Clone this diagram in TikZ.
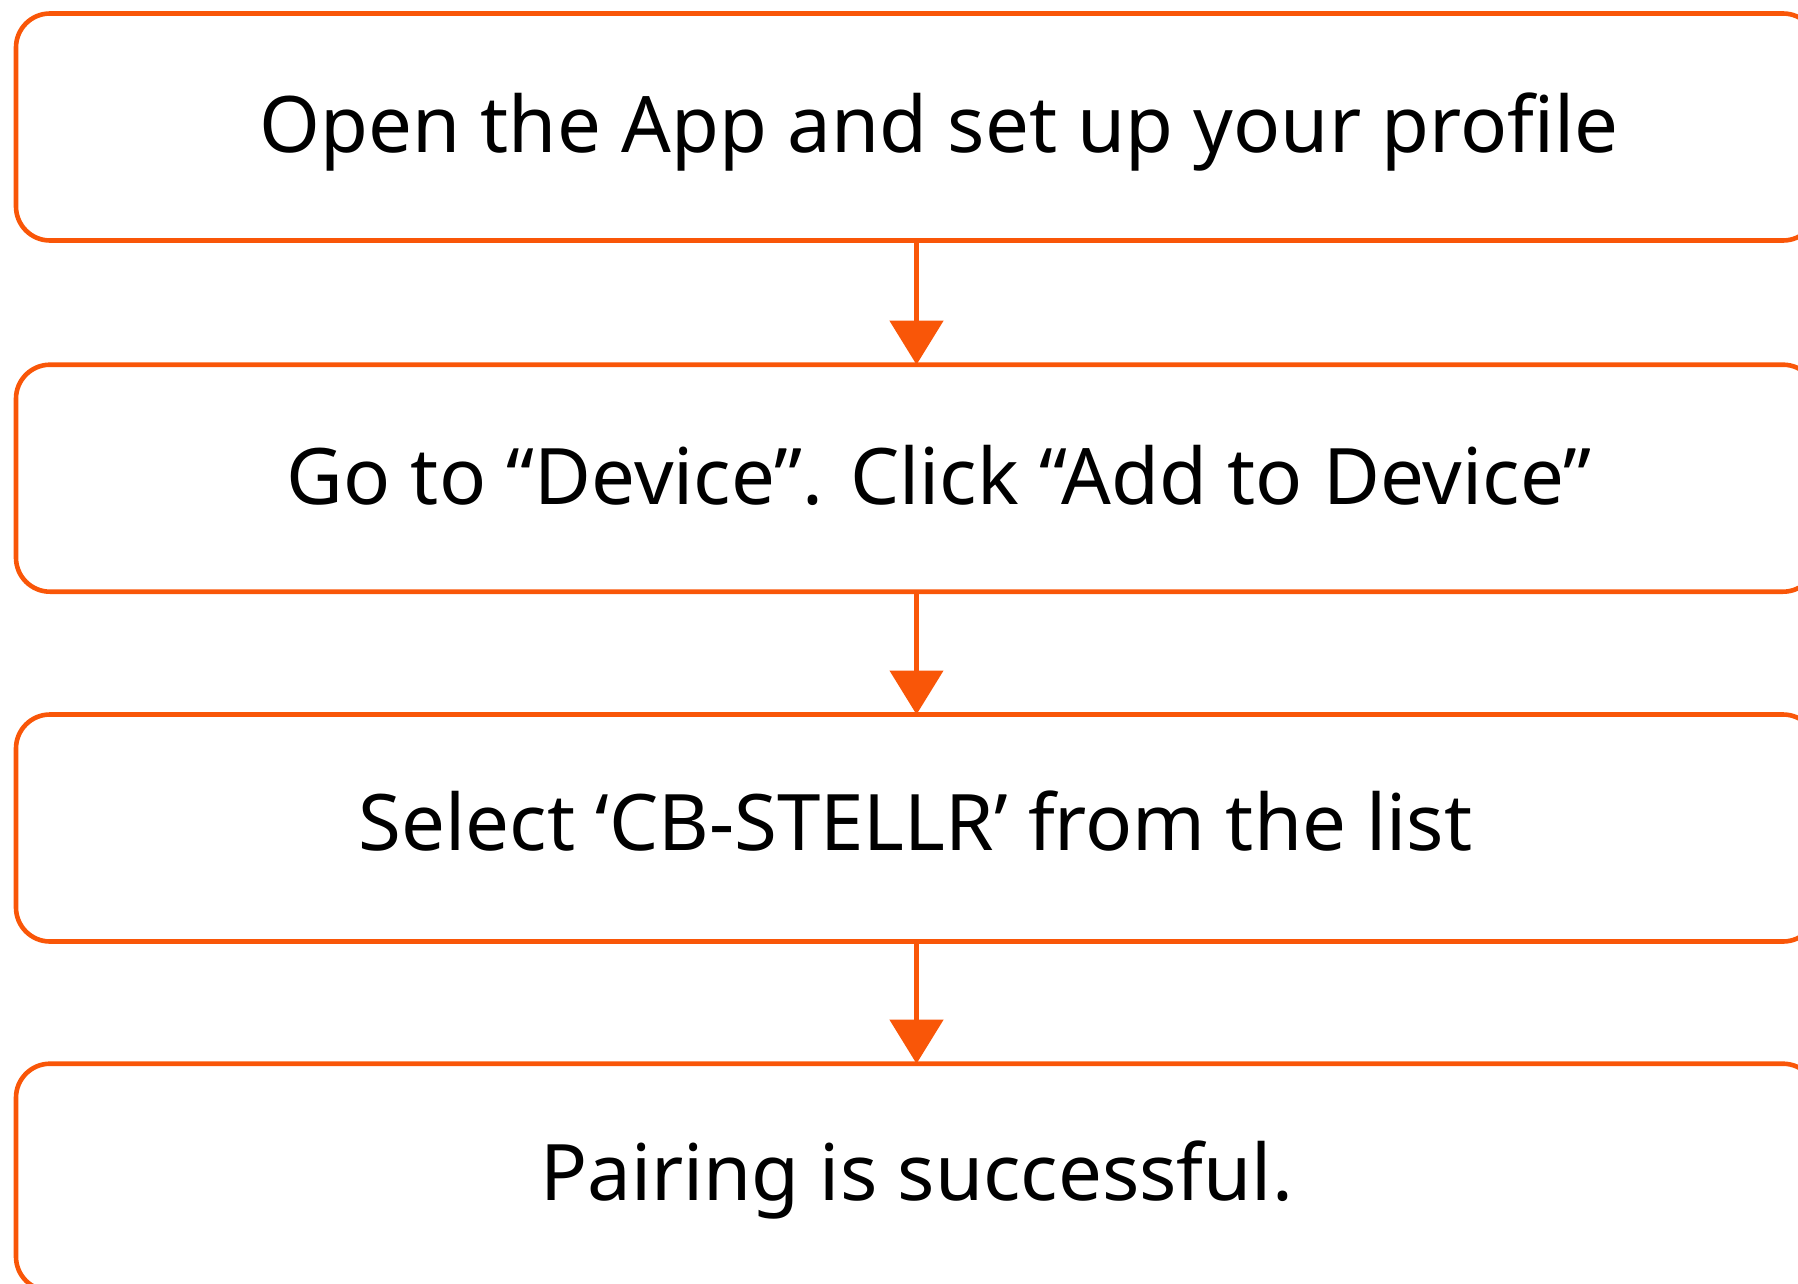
\documentclass[tikz,border=0pt]{standalone}
\usepackage{fontspec}
\setmainfont{Noto Sans}
\usetikzlibrary{arrows.meta}
\definecolor{flowred}{HTML}{F95608}

\begin{document}
\begin{tikzpicture}[x=0.5pt, y=-0.5pt, every node/.style={inner sep=0pt, outer sep=0pt},
    stepbox/.style={rectangle, draw=flowred, line width=2.3pt, rounded corners=17pt,
        minimum width=900.5pt, minimum height=113.5pt},
    steptext/.style={anchor=base, font=\fontsize{39}{47}\selectfont},
    flow/.style={draw=flowred, line width=2.3pt, -{Triangle[width=26.5pt, length=22pt]}} ]

            \useasboundingbox (0,0) rectangle (1798,1284);
            \clip (0,0) rectangle (1798,1284);

            \node[stepbox] (open) at (916.5,127) {};
            \node[stepbox] (device) at (916.5,478.2) {};
            \node[stepbox] (select) at (916.5,828) {};
            \node[stepbox] (paired) at (916.5,1177.2) {};

            \node[steptext] (opentxt) at (939,153) {Open the App and set up your profile};
            \node[steptext] (devicetxt) at (939,504) {Go to “Device”. Click “Add to Device”};
            \node[steptext] (selecttxt) at (915.5,850) {Select ‘CB-STELLR’ from the list};
            \node[steptext] (pairedtxt) at (916.5,1200) {Pairing is successful.};

            \foreach \a/\b in {open/device,device/select,select/paired}
                \draw[flow] (\a) -- (\b);

        \end{tikzpicture}
\end{document}
